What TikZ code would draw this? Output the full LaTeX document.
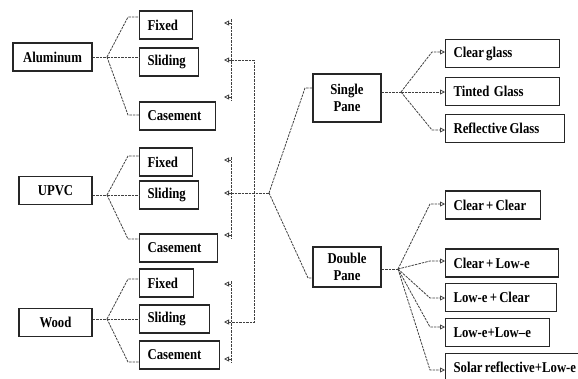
\documentclass[tikz,border=0pt]{standalone}
\usepackage{fontspec}
\setmainfont{Liberation Serif}[FakeStretch=0.85, WordSpace=0.7]
\usetikzlibrary{arrows.meta}

\begin{document}
\begin{tikzpicture}[x=1pt, y=-1pt, font=\fontsize{15}{17}\selectfont\bfseries]

  \tikzset{opt/.style={draw=black!85, line width=1.1pt, anchor=west,
                       minimum height=28pt, inner xsep=8pt, inner ysep=2pt,
                       align=flush left},
           mat/.style={draw=black!85, line width=1.1pt, minimum height=28pt,
                       inner sep=2pt, align=center},
           link/.style={draw=black!75, line width=0.8pt,
                        dash pattern=on 2.5pt off 1pt},
           arr/.style={link, -{Triangle[open, length=5pt, width=5pt]}}}

  \clip (0,0) rectangle (578,378);

  % frame materials
  \node[mat, minimum width=79pt] (alu) at (52.5,57) {Aluminum};
  \node[mat, minimum width=73pt] (upvc) at (55.5,190.5) {UPVC};
  \node[mat, minimum width=73pt] (wood) at (55.5,322.5) {Wood};

  \node[opt, text width=37pt] (af) at (139,25) {Fixed};
  \node[opt, text width=43pt] (as) at (139,62) {Sliding};
  \node[opt, text width=60pt] (ac) at (139,116) {Casement};
  \node[opt, text width=37pt] (uf) at (139,162) {Fixed};
  \node[opt, text width=43pt] (us) at (139,195) {Sliding};
  \node[opt, text width=62pt] (uc) at (139,248) {Casement};
  \node[opt, text width=38pt] (wf) at (139,283) {Fixed};
  \node[opt, text width=54pt] (ws) at (139,319) {Sliding};
  \node[opt, text width=64pt] (wc) at (139,355) {Casement};

  % material -> window type
  \draw[link] (alu.east) -- (107,57) coordinate (alub);
  \draw[link] (alub) -- (128,17) -- (af.west |- 128,17);
  \draw[link] (alub) -- (as.west |- alub);
  \draw[link] (alub) -- (128,115) -- (ac.west |- 128,115);
  \draw[link] (upvc.east |- 0,195) -- (107,195) coordinate (upvcb);
  \draw[link] (upvcb) -- (128,156) -- (uf.west |- 128,156);
  \draw[link] (upvcb) -- (us.west |- upvcb);
  \draw[link] (upvcb) -- (128,239) -- (uc.west |- 128,239);
  \draw[link] (wood.east |- 0,319) -- (107,319) coordinate (woodb);
  \draw[link] (woodb) -- (128,279) -- (wf.west |- 128,279);
  \draw[link] (woodb) -- (ws.west |- woodb);
  \draw[link] (woodb) -- (128,362) -- (wc.west |- 128,362);

  % collecting lines
  \foreach \y [count=\i] in {23,60,97,160,193,235,284,322,359} {
    \coordinate (b\i) at (231,\y);
    \coordinate (t\i) at (224,\y);
    \draw[arr] (b\i) -- (t\i);
  }
  \draw[link] (231,19) -- (231,100);
  \draw[link] (231,157) -- (231,238);
  \draw[link] (231,281) -- (231,363);
  \coordinate (J) at (269,193);
  \draw[link] (b2) -- (254,60) -- (254,322) -- (b8);
  \draw[link] (b5) -- (J);

  % glazing
  \node[mat, minimum width=68pt, minimum height=48pt] (sp) at (347,98)
       {Single\\Pane};
  \node[mat, minimum width=68pt, minimum height=40pt] (dp) at (347,267)
       {Double\\Pane};
  \draw[link] (J) -- (305,88) -- (sp.west |- 305,88);
  \draw[link] (J) -- (308,278) -- (dp.west |- 308,278);

  \node[opt, text width=98pt] (cg) at (445,53.5) {Clear glass};
  \node[opt, text width=98pt] (tg) at (445,91.5) {Tinted~ Glass};
  \node[opt, text width=103pt] (rg) at (445,128.5) {Reflective Glass};
  \node[opt, text width=79pt] (cc) at (445,205) {Clear + Clear};
  \node[opt, text width=97pt] (cl) at (445,263) {Clear + Low-e};
  \node[opt, text width=95pt] (lc) at (445,297.5) {Low-e + Clear};
  \node[opt, text width=88pt] (ll) at (445,332.5) {Low-e+Low–e};
  \node[opt, text width=140pt] (sr) at (445,367.5) {Solar reflective+Low-e};

  % pane -> glass
  \draw[link] (sp.east |- 0,92) -- (401,92) coordinate (spb);
  \draw[arr] (spb) -- (432,52) -- (cg.west |- 432,52);
  \draw[arr] (spb) -- (tg.west |- spb);
  \draw[arr] (spb) -- (432,130) -- (rg.west |- 432,130);
  \draw[link] (dp.east |- 0,269) -- (398,269) coordinate (dpb);
  \draw[arr] (dpb) -- (430,204) -- (cc.west |- 430,204);
  \draw[arr] (dpb) -- (430,261) -- (cl.west |- 430,261);
  \draw[arr] (dpb) -- (430,298) -- (lc.west |- 430,298);
  \draw[arr] (dpb) -- (430,327) -- (ll.west |- 430,327);
  \draw[arr] (dpb) -- (430,370) -- (sr.west |- 430,370);

\end{tikzpicture}
\end{document}
